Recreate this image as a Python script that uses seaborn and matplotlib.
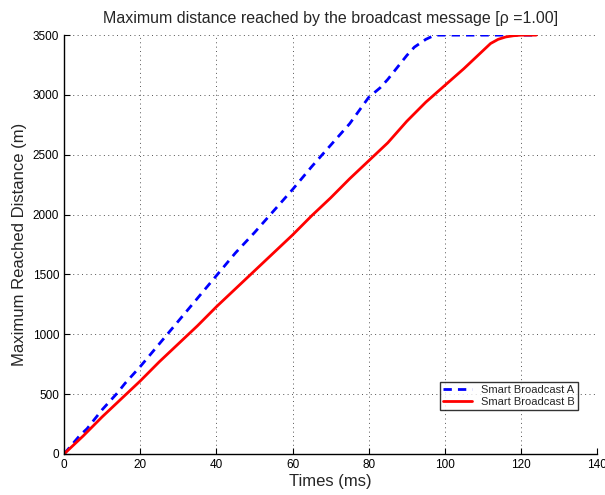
import matplotlib
matplotlib.use("Agg")
import matplotlib.pyplot as plt
import pandas as pd
import seaborn as sns

# readings
times_a = [0, 2, 4, 6, 8, 10, 12, 14, 16, 18, 20, 25, 30, 35, 40, 45, 50, 55,
           60, 65, 70, 75, 80, 83, 85, 88, 90, 92, 95, 97, 98, 124]
dist_a = [0, 75, 150, 210, 290, 370, 440, 510, 590, 660, 730, 920, 1110, 1300,
          1490, 1680, 1850, 2030, 2210, 2400, 2580, 2760, 2980, 3060, 3130,
          3250, 3330, 3400, 3465, 3495, 3500, 3500]

times_b = [0, 5, 10, 15, 20, 25, 30, 35, 40, 45, 50, 55, 60, 65, 70, 75, 80,
           85, 90, 95, 100, 105, 110, 112, 114, 116, 118, 120, 124]
dist_b = [0, 150, 310, 460, 610, 770, 920, 1070, 1230, 1380, 1530, 1680, 1830,
          1990, 2140, 2300, 2450, 2600, 2780, 2940, 3080, 3220, 3370, 3430,
          3465, 3485, 3495, 3500, 3500]

series_names = ["Smart Broadcast A", "Smart Broadcast B"]
x_ticks = [0, 20, 40, 60, 80, 100, 120, 140]
y_ticks = [0, 500, 1000, 1500, 2000, 2500, 3000, 3500]

df_a = pd.DataFrame({"time": times_a, "dist": dist_a})
df_b = pd.DataFrame({"time": times_b, "dist": dist_b})

sns.set_style("ticks")
plt.rcParams["font.family"] = ["Liberation Sans", "DejaVu Sans"]

fig = plt.figure(figsize=(6.05, 4.95), dpi=100)
ax = fig.add_axes([0.106, 0.083, 0.881, 0.846])

sns.lineplot(data=df_a, x="time", y="dist", ax=ax, color="#0000ff",
             linewidth=2, linestyle=(0, (3, 2.2)), label=series_names[0])
sns.lineplot(data=df_b, x="time", y="dist", ax=ax, color="#ff0000",
             linewidth=2, label=series_names[1])

ax.set_xlim(0, 140)
ax.set_ylim(0, 3500)
ax.set_xticks(x_ticks)
ax.set_yticks(y_ticks)
ax.grid(True, color="#555555", linestyle=(0, (1, 3.5)), linewidth=0.7)
ax.tick_params(direction="in", length=4, width=0.8, labelsize=8.5, colors="black")
for side in ["top", "right"]:
    ax.spines[side].set_visible(False)
for side in ["left", "bottom"]:
    ax.spines[side].set_color("black")
    ax.spines[side].set_linewidth(1.0)

ax.set_xlabel("Times (ms)", fontsize=12, labelpad=2)
ax.set_ylabel("Maximum Reached Distance (m)", fontsize=12, labelpad=4)
ax.set_title("Maximum distance reached by the broadcast message [\u03c1 =1.00]",
             fontsize=11.5, pad=8.5)

leg = ax.legend(loc="lower left", bbox_to_anchor=(0.705, 0.105), fontsize=8,
                frameon=True, fancybox=False, borderpad=0.3, labelspacing=0.15,
                handlelength=2.6, borderaxespad=0)
leg.get_frame().set_edgecolor("black")
leg.get_frame().set_linewidth(1.0)

fig.savefig("out.png", dpi=100)
